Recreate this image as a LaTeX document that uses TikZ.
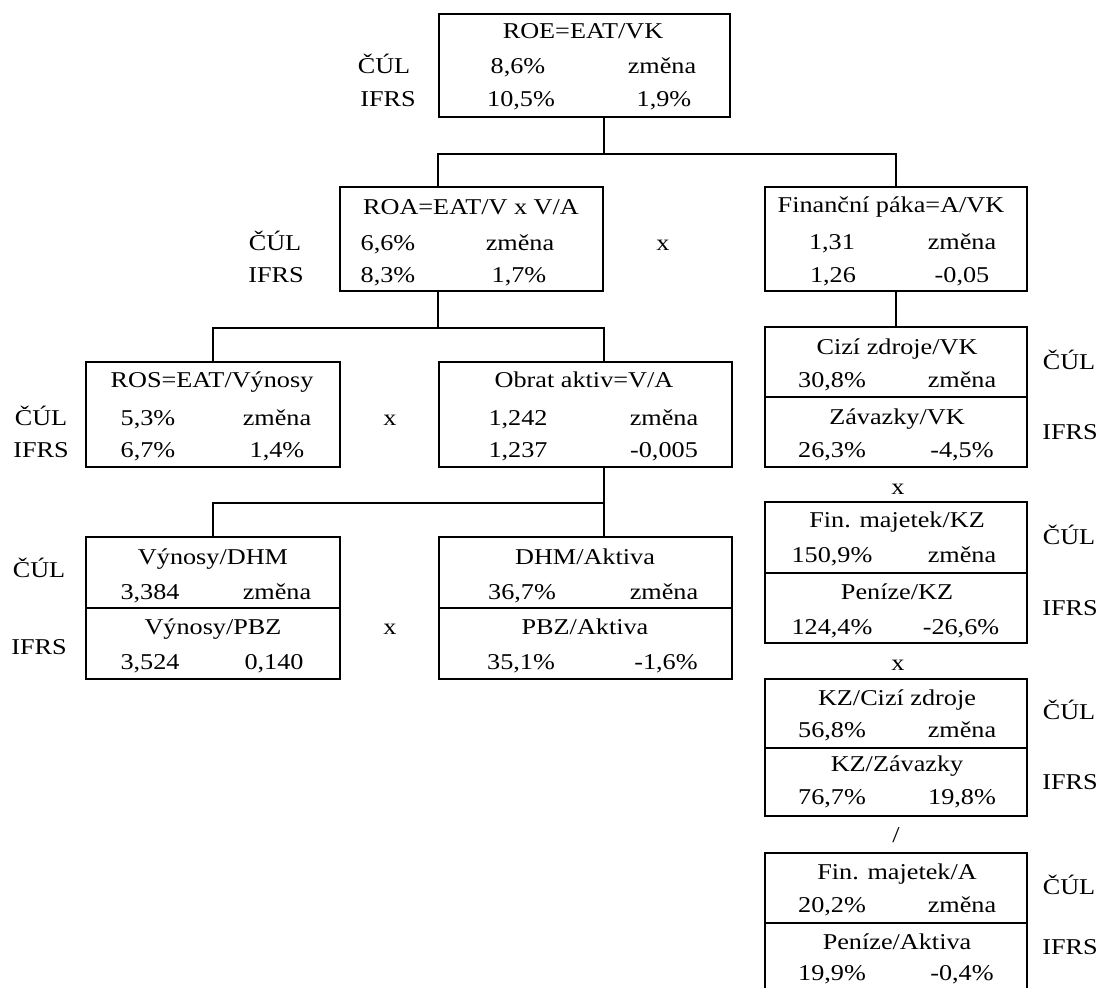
\documentclass[tikz,border=0pt]{standalone}
\usepackage{fontspec}
\setmainfont{Liberation Serif}[FakeStretch=1.16]
\usepackage{tikz}

\begin{document}
\begin{tikzpicture}[
    x=1pt, y=-1pt,
    every node/.style={font=\fontsize{22.6}{27}\selectfont, inner sep=0pt, text height=15pt, text depth=5pt},
    box/.style={draw, line width=2pt},
    link/.style={line width=2pt}
  ]
  \useasboundingbox (0,0) rectangle (1099,987);
  \node (roe) [box, minimum width=291, minimum height=103] at (584.5,65.5) {};
  \node (roe-t) at (583,34) {ROE=EAT/VK};
  \node (roe-a) at (518,69) {8,6\%};
  \node (roe-b) at (662,69) {změna};
  \node (roe-c) at (521,102) {10,5\%};
  \node (roe-d) at (664,102) {1,9\%};
  \node (roe-cul) at (384,69) {ČÚL};
  \node (roe-ifrs) at (388,102) {IFRS};

  \node (roa) [box, minimum width=263, minimum height=104] at (471.5,239) {};
  \node (roa-t) at (471,209) {ROA=EAT/V x V/A};
  \node (roa-a) at (388,245) {6,6\%};
  \node (roa-b) at (520,245) {změna};
  \node (roa-c) at (388,277) {8,3\%};
  \node (roa-d) at (519,277) {1,7\%};
  \node (roa-cul) at (275,245) {ČÚL};
  \node (roa-ifrs) at (276,277) {IFRS};
  \node (roa-x) at (663,245) {x};

  \node (fin) [box, minimum width=262, minimum height=104] at (896,239) {};
  \node (fin-t) at (891,207) {Finanční páka=A/VK};
  \node (fin-a) at (832,244) {1,31};
  \node (fin-b) at (962,244) {změna};
  \node (fin-c) at (833,277) {1,26};
  \node (fin-d) at (962,277) {-0,05};

  \node (ros) [box, minimum width=254, minimum height=105] at (213,414.5) {};
  \node (ros-t) at (212,382) {ROS=EAT/Výnosy};
  \node (ros-a) at (148,420) {5,3\%};
  \node (ros-b) at (277,420) {změna};
  \node (ros-c) at (148,452) {6,7\%};
  \node (ros-d) at (277,452) {1,4\%};
  \node (ros-cul) at (41,420) {ČÚL};
  \node (ros-ifrs) at (41,452) {IFRS};
  \node (ros-x) at (390,420) {x};

  \node (obrat) [box, minimum width=293, minimum height=105] at (585.5,414.5) {};
  \node (obrat-t) at (584,382) {Obrat aktiv=V/A};
  \node (obrat-a) at (518,420) {1,242};
  \node (obrat-b) at (664,420) {změna};
  \node (obrat-c) at (518,452) {1,237};
  \node (obrat-d) at (664,452) {-0,005};

  \node (vyn) [box, minimum width=254, minimum height=71] at (213,572.5) {};
  \node (vyn2) [box, minimum width=254, minimum height=71] at (213,643.5) {};
  \node (vyn-t) at (213,559) {Výnosy/DHM};
  \node (vyn-a) at (150,594) {3,384};
  \node (vyn-b) at (277,594) {změna};
  \node (vyn-t2) at (213,629) {Výnosy/PBZ};
  \node (vyn-c) at (150,664) {3,524};
  \node (vyn-d) at (274,664) {0,140};
  \node (vyn-cul) at (39,572) {ČÚL};
  \node (vyn-ifrs) at (39,649) {IFRS};
  \node (vyn-x) at (390,629) {x};

  \node (dhm) [box, minimum width=293, minimum height=71] at (585.5,572.5) {};
  \node (dhm2) [box, minimum width=293, minimum height=71] at (585.5,643.5) {};
  \node (dhm-t) at (585,559) {DHM/Aktiva};
  \node (dhm-a) at (522,594) {36,7\%};
  \node (dhm-b) at (664,594) {změna};
  \node (dhm-t2) at (585,629) {PBZ/Aktiva};
  \node (dhm-c) at (521,664) {35,1\%};
  \node (dhm-d) at (666,664) {-1,6\%};

  \node (cizi) [box, minimum width=262, minimum height=70] at (896,362) {};
  \node (cizi2) [box, minimum width=262, minimum height=70] at (896,432) {};
  \node (cizi-t) at (897,349) {Cizí zdroje/VK};
  \node (cizi-a) at (832,382) {30,8\%};
  \node (cizi-b) at (962,382) {změna};
  \node (cizi-t2) at (897,419) {Závazky/VK};
  \node (cizi-c) at (832,452) {26,3\%};
  \node (cizi-d) at (962,452) {-4,5\%};
  \node (cizi-cul) at (1069,364) {ČÚL};
  \node (cizi-ifrs) at (1070,434) {IFRS};
  \node (cizi-x) at (898,489) {x};

  \node (finmaj) [box, minimum width=262, minimum height=71] at (896,537.5) {};
  \node (finmaj2) [box, minimum width=262, minimum height=70] at (896,608) {};
  \node (finmaj-t) at (897,522) {Fin. majetek/KZ};
  \node (finmaj-a) at (832,557) {150,9\%};
  \node (finmaj-b) at (962,557) {změna};
  \node (finmaj-t2) at (897,594) {Peníze/KZ};
  \node (finmaj-c) at (832,629) {124,4\%};
  \node (finmaj-d) at (961,629) {-26,6\%};
  \node (finmaj-cul) at (1069,539) {ČÚL};
  \node (finmaj-ifrs) at (1070,610) {IFRS};
  \node (finmaj-x) at (898,665) {x};

  \node (kz) [box, minimum width=262, minimum height=69] at (896,713.5) {};
  \node (kz2) [box, minimum width=262, minimum height=68] at (896,782) {};
  \node (kz-t) at (897,700) {KZ/Cizí zdroje};
  \node (kz-a) at (832,732) {56,8\%};
  \node (kz-b) at (962,732) {změna};
  \node (kz-t2) at (897,766) {KZ/Závazky};
  \node (kz-c) at (832,799) {76,7\%};
  \node (kz-d) at (962,799) {19,8\%};
  \node (kz-cul) at (1069,714) {ČÚL};
  \node (kz-ifrs) at (1070,784) {IFRS};
  \node (kz-div) at (896,837) {/};

  \node (fina) [box, minimum width=262, minimum height=70] at (896,888) {};
  \node (fina2) [box, minimum width=262, minimum height=70] at (896,958) {};
  \node (fina-t) at (897,874) {Fin. majetek/A};
  \node (fina-a) at (832,907) {20,2\%};
  \node (fina-b) at (962,907) {změna};
  \node (fina-t2) at (897,944) {Peníze/Aktiva};
  \node (fina-c) at (832,975) {19,9\%};
  \node (fina-d) at (962,975) {-0,4\%};
  \node (fina-cul) at (1069,889) {ČÚL};
  \node (fina-ifrs) at (1070,949) {IFRS};

  \draw[link] (roe.south -| roa.east) -- ++(0,36) coordinate (f1);
  \draw[link] (roa.north -| roe.west) |- (f1) -| (fin.north);
  \draw[link] (roa.south -| roe.west) -- ++(0,36) coordinate (f2);
  \draw[link] (ros.north) |- (f2) -| (obrat.north -| roa.east);
  \draw[link] (obrat.south -| roa.east) -- ++(0,35) coordinate (f3);
  \draw[link] (vyn.north) |- (f3) -| (dhm.north -| roa.east);
  \draw[link] (fin.south) -- (cizi.north);
\end{tikzpicture}
\end{document}
